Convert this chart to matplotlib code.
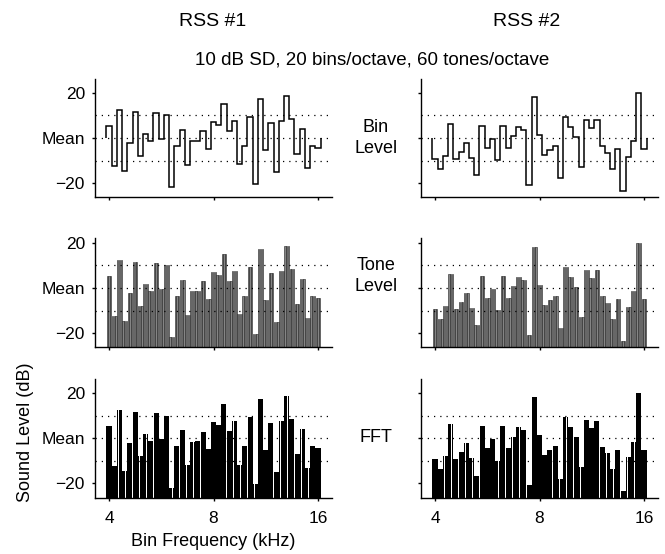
import numpy as np
import matplotlib
matplotlib.use('Agg')
import matplotlib.pyplot as plt
from matplotlib.ticker import FixedLocator, FixedFormatter, NullLocator, NullFormatter

plt.rcParams['font.family'] = ['Liberation Sans', 'DejaVu Sans']

# ---------------- data ----------------
bins_per_octave = 20
tones_per_octave = 60
tones_per_bin = 3
bin_start_khz = 4.0

rss1_bin_db = [5.5, -12.4, 12.4, -14.6, -2.2, 11.7, -8.0, 1.8, -1.2, 11.2,
               -0.4, 10.0, -21.9, -3.6, 3.4, -12.0, -1.5, -1.2, 2.9, -4.7,
               7.3, 5.8, 15.0, 3.2, 7.7, -11.7, -3.4, 9.5, -20.4, 17.2,
               -5.4, 6.6, -15.2, 7.7, 18.5, 8.3, -7.0, 3.9, -13.4, -3.6,
               -4.4]
rss2_bin_db = [-9.3, -13.7, -8.1, 6.3, -9.3, -6.3, -2.2, -8.8, -16.6, 5.4,
               -4.4, -0.4, -9.9, 5.4, -4.4, 0.7, 4.9, 3.7, -20.7, 18.4,
               1.5, -7.4, -5.4, -3.4, -17.9, 9.3, 4.9, 0.3, -12.8, 8.1,
               4.4, 7.8, -3.7, -6.6, -13.7, -5.1, -23.5, -8.4, -1.5, 20.1,
               -5.1]

col_titles = ['RSS #1', 'RSS #2']
row_labels = ['Bin\nLevel', 'Tone\nLevel', 'FFT']
subtitle = '10 dB SD, 20 bins/octave, 60 tones/octave'
x_ticks = [4, 8, 16]
x_tick_labels = ['4', '8', '16']
y_ticks = [-20, 0, 20]
y_tick_labels = ['\u221220', 'Mean', '20']
ref_lines = [-10, 0, 10]
x_label = 'Bin Frequency (kHz)'
y_label = 'Sound Level (dB)'

# ---------------- figure ----------------
W, H = 665, 554
fig = plt.figure(figsize=(W / 100, H / 100), dpi=100)

def px_axes(x0, y_top, x1, y_bot):
    return fig.add_axes([x0 / W, 1 - y_bot / H, (x1 - x0) / W, (y_bot - y_top) / H])

col_x = [(95, 332), (421, 658)]
row_y = [(79, 197), (238, 347), (379, 498)]
row_ylim = [(-26.2, 26.2), (-26.2, 22.2), (-26.5, 26.2)]

xlim = (4 * 2 ** -0.134, 16 * 2 ** 0.134)

def style_axes(ax, ylim, show_x_labels, show_y_labels):
    ax.set_xscale('log', base=2)
    ax.set_xlim(*xlim)
    ax.set_ylim(*ylim)
    for s in ['top', 'right']:
        ax.spines[s].set_visible(False)
    for s in ['left', 'bottom']:
        ax.spines[s].set_linewidth(1.0)
    ax.xaxis.set_major_locator(FixedLocator(x_ticks))
    ax.xaxis.set_minor_locator(NullLocator())
    ax.xaxis.set_minor_formatter(NullFormatter())
    if show_x_labels:
        ax.xaxis.set_major_formatter(FixedFormatter(x_tick_labels))
    else:
        ax.xaxis.set_major_formatter(NullFormatter())
    ax.yaxis.set_major_locator(FixedLocator(y_ticks))
    if show_y_labels:
        ax.yaxis.set_major_formatter(FixedFormatter(y_tick_labels))
    else:
        ax.yaxis.set_major_formatter(NullFormatter())
    ax.tick_params(direction='out', length=2.2, width=1.0, labelsize=12.5, colors='black')
    ax.tick_params(axis='y', pad=5)
    ax.tick_params(axis='x', pad=7)
    for r in ref_lines:
        ax.axhline(r, color='black', lw=0.9, ls=(0, (1, 4)), zorder=5)

for c, bin_db in enumerate([rss1_bin_db, rss2_bin_db]):
    bin_db = np.asarray(bin_db)
    n_bins = len(bin_db)
    idx = np.arange(n_bins)
    edges = bin_start_khz * 2 ** ((np.arange(n_bins + 1) - 0.5) / bins_per_octave)
    centers = bin_start_khz * 2 ** (idx / bins_per_octave)
    offsets = np.arange(tones_per_bin) - (tones_per_bin - 1) / 2
    tone_f = (centers[:, None] * 2 ** (offsets[None, :] / tones_per_octave)).ravel()
    tone_db = np.repeat(bin_db, tones_per_bin)

    x0, x1 = col_x[c]
    # Row 1: bin level steps
    ax = px_axes(x0, row_y[0][0], x1, row_y[0][1])
    style_axes(ax, row_ylim[0], False, c == 0)
    ax.stairs(bin_db, edges, baseline=0, color='black', lw=1.1, zorder=3)

    # Row 2: tone level bars
    ax = px_axes(x0, row_y[1][0], x1, row_y[1][1])
    style_axes(ax, row_ylim[1], False, c == 0)
    floor = row_ylim[1][0]
    w = 0.7
    left = tone_f * 2 ** (-0.5 * w / tones_per_octave)
    right = tone_f * 2 ** (0.5 * w / tones_per_octave)
    ax.bar(left, tone_db - floor, width=right - left, bottom=floor, align='edge',
           color='#858585', edgecolor='#202020', linewidth=0.4, zorder=2)

    # Row 3: FFT
    ax = px_axes(x0, row_y[2][0], x1, row_y[2][1])
    style_axes(ax, row_ylim[2], True, c == 0)
    floor = row_ylim[2][0]
    w = 0.9
    left = tone_f * 2 ** (-0.5 * w / tones_per_octave)
    right = tone_f * 2 ** (0.5 * w / tones_per_octave)
    ax.bar(left, tone_db - floor, width=right - left, bottom=floor, align='edge',
           color='black', edgecolor='none', linewidth=0, zorder=2)

# ---------------- text ----------------
fig.text(213 / W, 1 - 22 / H, col_titles[0], ha='center', va='center', fontsize=14)
fig.text(527 / W, 1 - 22 / H, col_titles[1], ha='center', va='center', fontsize=14)
fig.text(372 / W, 1 - 60 / H, subtitle, ha='center', va='center', fontsize=13.5)
row_label_y = [138, 276, 437]
for lbl, yy in zip(row_labels, row_label_y):
    fig.text(376 / W, 1 - yy / H, lbl, ha='center', va='center', fontsize=13,
             linespacing=1.3)
fig.text(213 / W, 1 - 542 / H, x_label, ha='center', va='center', fontsize=13)
fig.text(25 / W, 1 - 432 / H, y_label, ha='center', va='center', fontsize=13,
         rotation=90)

fig.savefig('out.png', dpi=100)
